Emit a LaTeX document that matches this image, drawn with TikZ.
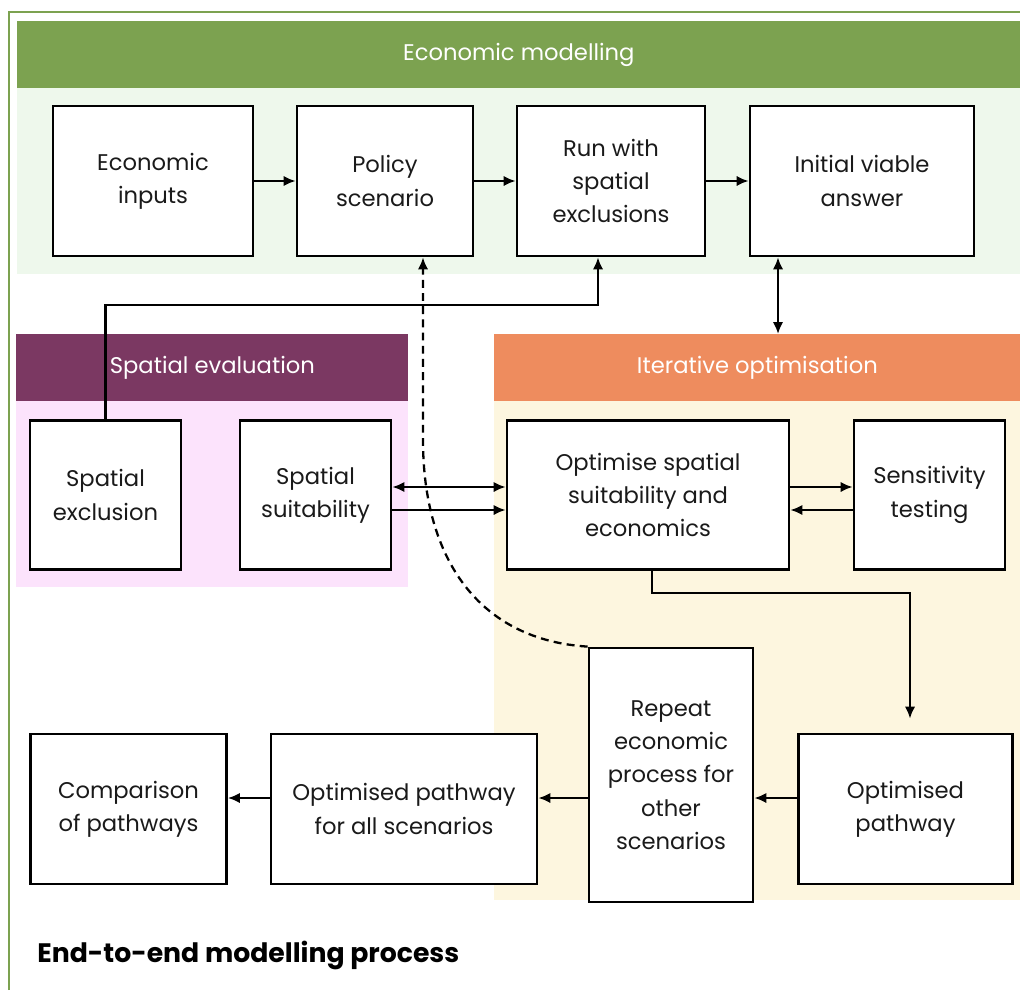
\documentclass[tikz,border=0pt]{standalone}
\usepackage{fontspec}
\setmainfont{Poppins}
\usepackage{tikz}
\usetikzlibrary{arrows.meta,%
		calc,%
		positioning}

\definecolor{ecogreen}{HTML}{7CA250}
\definecolor{ecobody}{HTML}{EEF8EC}
\definecolor{spapurple}{HTML}{7B3862}
\definecolor{spabody}{HTML}{FCE3FC}
\definecolor{iterorange}{HTML}{EE8C5E}
\definecolor{iterbody}{HTML}{FDF6DF}
\definecolor{textdark}{HTML}{1A1A1A}

\newcommand{\boxfont}{\fontsize{12.9}{18.9}\selectfont}

\begin{document}
\begin{tikzpicture}[x=0.02cm,y=-0.02cm,
	box/.style={draw=black,line width=1.6pt,fill=white,align=center,
		inner sep=0pt,font=\boxfont,text=textdark},
	head/.style={inner sep=0pt,font=\boxfont,text=white,anchor=north west},
	arr/.style={-{Latex[length=2.4mm,width=2.1mm]},line width=1.3pt},
	darr/.style={{Latex[length=2.4mm,width=2.1mm]}-{Latex[length=2.4mm,width=2.1mm]},line width=1.3pt},
	dasharr/.style={arr,dash pattern=on 4.5pt off 3pt}]

\useasboundingbox (0,0) rectangle (1020,990);

% outer frame
\draw[ecogreen,line width=1.2pt] (9,990) -- (9,12) -- (1020,12);

% panels
\begin{scope}
\fill[ecobody] (17,88) rectangle (1020,274);
\node[head,fill=ecogreen,minimum width=1003*0.02cm,minimum height=67*0.02cm] (ecohead) at (17,21) {Economic modelling};
\fill[spabody] (16,401) rectangle (408,587);
\node[head,fill=spapurple,minimum width=392*0.02cm,minimum height=67*0.02cm] (spahead) at (16,334) {Spatial evaluation};
\fill[iterbody] (494,401) rectangle (1020,900);
\node[head,fill=iterorange,minimum width=526*0.02cm,minimum height=67*0.02cm] (iterhead) at (494,334) {Iterative optimisation};
\end{scope}

% top row
\node[box,minimum width=200*0.02cm,minimum height=150*0.02cm] (econ) at (153,181) {Economic\\inputs};
\node[box,minimum width=176*0.02cm,minimum height=150*0.02cm] (policy) at (385,181) {Policy\\scenario};
\node[box,minimum width=188*0.02cm,minimum height=150*0.02cm] (run) at (611,181) {Run with\\spatial\\exclusions};
\node[box,minimum width=224*0.02cm,minimum height=150*0.02cm] (initial) at (862,181) {Initial viable\\answer};

% middle row
\node[box,minimum width=151*0.02cm,minimum height=149*0.02cm] (spexcl) at (105.5,495) {Spatial\\exclusion};
\node[box,minimum width=151*0.02cm,minimum height=149*0.02cm] (spsuit) at (315.5,495) {Spatial\\suitability};
\node[box,minimum width=282*0.02cm,minimum height=149*0.02cm] (optim) at (648,495) {Optimise spatial\\suitability and\\economics};
\node[box,minimum width=151*0.02cm,minimum height=149*0.02cm] (sens) at (929.5,495) {Sensitivity\\testing};

% bottom row
\node[box,minimum width=196*0.02cm,minimum height=150*0.02cm] (compare) at (128.5,809) {Comparison\\of pathways};
\node[box,minimum width=266*0.02cm,minimum height=150*0.02cm] (optall) at (404,809) {Optimised pathway\\for all scenarios};
\node[box,minimum width=164*0.02cm,minimum height=254*0.02cm] (repeat) at (671,775) {Repeat\\economic\\process for\\other\\scenarios};
\node[box,minimum width=214*0.02cm,minimum height=150*0.02cm] (optpath) at (905.5,809) {Optimised\\pathway};

% connectors
\draw[arr] (econ) -- (policy);
\draw[arr] (policy) -- (run);
\draw[arr] (run) -- (initial);

\coordinate (r1) at (598,305);
\draw[arr] (spexcl.north) |- (r1) -- (r1 |- run.south);

\coordinate (v1) at (778,300);
\draw[darr] (v1 |- initial.south) -- (v1 |- iterhead.north);

\draw[darr] ($(spsuit.east)+(0,-8)$) -- ($(optim.west)+(0,-8)$);
\draw[arr] ($(spsuit.east)+(0,15)$) -- ($(optim.west)+(0,15)$);
\draw[arr] ($(optim.east)+(0,-8)$) -- ($(sens.west)+(0,-8)$);
\draw[arr] ($(sens.west)+(0,15)$) -- ($(optim.east)+(0,15)$);

\coordinate (o1) at (910,593);
\draw[arr,shorten >=0.28cm] ($(optim.south)+(4,0)$) |- (o1) -- (o1 |- optpath.north);

\coordinate (b1) at (0,798);
\draw[arr] (optpath.west |- b1) -- (repeat.east |- b1);
\draw[arr] (repeat.west |- b1) -- (optall.east |- b1);
\draw[arr] (optall.west |- b1) -- (compare.east |- b1);

% dashed loop back
\coordinate (d1) at (423,440);
\draw[dasharr] (repeat.north west) .. controls (480,640) and (423,560) .. (d1) -- (d1 |- policy.south);

% title
\node[anchor=base west,inner sep=0pt,font=\fontsize{15.2}{18}\selectfont\bfseries,text=black] (title) at (37,962) {End-to-end modelling process};

\end{tikzpicture}
\end{document}
